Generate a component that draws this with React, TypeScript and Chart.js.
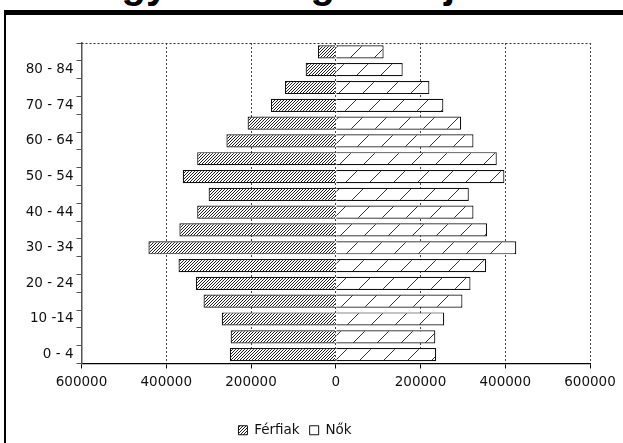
import React, { useEffect, useRef } from "react";
import { Chart, registerables } from "chart.js";

Chart.register(...registerables);

// ---- data ----
const ageGroups = [
  "0 - 4", "5 - 9", "10 -14", "15 - 19", "20 - 24", "25 - 29",
  "30 - 34", "35 - 39", "40 - 44", "45 - 49", "50 - 54", "55 - 59",
  "60 - 64", "65 - 69", "70 - 74", "75 - 79", "80 - 84", "85 -",
];
const males = [
  250000, 248000, 269000, 312000, 330000, 371000,
  442000, 369000, 327000, 300000, 361000, 327000,
  258000, 208000, 153000, 120000, 71000, 42000,
];
const females = [
  237000, 235000, 256000, 299000, 318000, 355000,
  426000, 357000, 325000, 314000, 398000, 380000,
  325000, 296000, 254000, 221000, 158000, 113000,
];
const seriesNames = ["Férfiak", "Nők"];
const xMin = -600000;
const xMax = 600000;
const xStep = 200000;
const titleText = "Magyarország korfája";

function makeHatch(size: number, color: string, width: number): CanvasPattern | string {
  const c = document.createElement("canvas");
  c.width = size;
  c.height = size;
  const g = c.getContext("2d");
  if (!g) return "#fff";
  g.fillStyle = "#fff";
  g.fillRect(0, 0, size, size);
  g.strokeStyle = color;
  g.lineWidth = width;
  g.beginPath();
  g.moveTo(0, size);
  g.lineTo(size, 0);
  g.moveTo(-size, size);
  g.lineTo(size, -size);
  g.moveTo(0, 2 * size);
  g.lineTo(2 * size, 0);
  g.stroke();
  const p = g.createPattern(c, "repeat");
  return p || "#fff";
}

const topBorderPlugin = {
  id: "topBorder",
  beforeDatasetsDraw(chart: any) {
    const { ctx, chartArea } = chart;
    ctx.save();
    ctx.strokeStyle = "#333";
    ctx.lineWidth = 1;
    ctx.setLineDash([2, 2]);
    ctx.beginPath();
    ctx.moveTo(chartArea.left, Math.round(chartArea.top) + 0.5);
    ctx.lineTo(chartArea.right, Math.round(chartArea.top) + 0.5);
    ctx.stroke();
    ctx.restore();
  },
};

export default function App() {
  const ref = useRef<HTMLCanvasElement | null>(null);

  useEffect(() => {
    if (!ref.current) return;
    const malePattern = makeHatch(3, "#222", 1);
    const femalePattern = makeHatch(24, "#333", 1);
    const font = { family: "DejaVu Sans", size: 13.5 };
    const chart = new Chart(ref.current, {
      type: "bar",
      data: {
        labels: ageGroups,
        datasets: [
          {
            label: seriesNames[0],
            data: males.map((v) => -v),
            backgroundColor: malePattern as any,
            borderColor: "#111",
            borderWidth: 1.2,
            barPercentage: 0.74,
            categoryPercentage: 1,
          },
          {
            label: seriesNames[1],
            data: females,
            backgroundColor: femalePattern as any,
            borderColor: "#111",
            borderWidth: 1.2,
            barPercentage: 0.74,
            categoryPercentage: 1,
          },
        ],
      },
      options: {
        indexAxis: "y",
        animation: false,
        responsive: false,
        devicePixelRatio: 1,
        layout: { padding: { top: 43, right: 33, bottom: 0, left: 0 } },
        plugins: {
          tooltip: { enabled: false },
          title: { display: false },
          legend: {
            position: "bottom",
            labels: {
              boxWidth: 9,
              boxHeight: 9,
              padding: 10,
              color: "#111",
              font: { family: "DejaVu Sans", size: 13.5 },
              generateLabels: (chart: any) => {
                const items = Chart.defaults.plugins.legend.labels.generateLabels(chart);
                return items.map((it: any, i: number) =>
                  i === 1 ? { ...it, fillStyle: "#fff", lineWidth: 1 } : { ...it, lineWidth: 1 }
                );
              },
            },
          },
        },
        scales: {
          x: {
            type: "linear",
            stacked: true,
            min: xMin,
            max: xMax,
            afterFit: (scale: any) => {
              scale.height = 50;
            },
            ticks: {
              stepSize: xStep,
              padding: 6,
              color: "#111",
              font,
              callback: (v: any) => String(Math.abs(Number(v))),
            },
            grid: {
              color: "#444",
              lineWidth: 1,
              drawTicks: true,
              tickLength: 5,
              tickColor: "#000",
              tickBorderDash: [],
            },
            border: { display: true, color: "#000", width: 1.3, dash: [2, 2] },
          },
          y: {
            type: "category",
            stacked: true,
            reverse: true,
            afterFit: (scale: any) => {
              scale.width = 81.5;
            },
            ticks: {
              autoSkip: false,
              padding: 3,
              color: "#111",
              font,
              callback: (_v: any, i: number) => (i % 2 === 0 ? ageGroups[i] : ""),
            },
            grid: {
              offset: true,
              drawOnChartArea: false,
              drawTicks: true,
              tickLength: 5,
              color: "#555",
              tickColor: "#555",
            },
            border: { display: true, color: "#555", width: 1.5 },
          },
        },
      } as any,
      plugins: [topBorderPlugin],
    });
    return () => chart.destroy();
  }, []);

  return (
    <div
      style={{
        position: "fixed",
        left: 0,
        top: 0,
        width: 623,
        height: 443,
        overflow: "hidden",
        background: "#fff",
      }}
    >
      <div
        style={{
          position: "absolute",
          left: 66,
          top: -36,
          fontFamily: "Liberation Sans",
          fontWeight: "bold",
          fontSize: 40,
          lineHeight: 1,
          whiteSpace: "nowrap",
          color: "#000",
        }}
      >
        {titleText}
      </div>
      <div
        style={{
          position: "absolute",
          left: 4,
          top: 10,
          width: 700,
          height: 500,
          borderLeft: "2px solid #000",
          borderTop: "5px solid #000",
        }}
      />
      <canvas
        ref={ref}
        width={623}
        height={447}
        style={{ position: "absolute", left: 0, top: 0, width: 623, height: 447 }}
      />
    </div>
  );
}
